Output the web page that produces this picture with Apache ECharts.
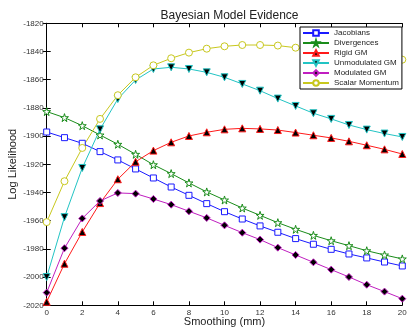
<!DOCTYPE html>
<html>
<head>
<meta charset="utf-8">
<script src="https://cdn.jsdelivr.net/npm/echarts@6/dist/echarts.min.js"></script>
<style>
  html, body { margin: 0; padding: 0; background: #fff; }
  #chart { width: 407px; height: 327px; }
</style>
</head>
<body>
<div id="chart"></div>
<script>
// smoothing kernel width (mm)
const smoothing = [0, 1, 2, 3, 4, 5, 6, 7, 8, 9, 10, 11, 12, 13, 14, 15, 16, 17, 18, 19, 20]

// log likelihood per model
const jacobians = [-1897.1, -1901.1, -1905.1, -1911, -1916.9, -1923.3, -1929.7, -1936.1, -1942, -1947.9, -1953.6, -1958.8, -1963.7, -1968.2, -1972.7, -1976.7, -1980.3, -1983.6, -1986.4, -1989.3, -1992.1]
const divergences = [-1882.6, -1886.9, -1892.6, -1899.2, -1905.8, -1912.9, -1920.3, -1926.6, -1933.2, -1939.6, -1945.3, -1951, -1956.2, -1961.4, -1966.1, -1970.4, -1974.2, -1977.7, -1981.3, -1984.3, -1987.1]
const rigidGM = [-2017.5, -1990.5, -1968, -1947.5, -1930.6, -1918.2, -1910.3, -1904.4, -1899.9, -1897.3, -1895.2, -1894.5, -1894.9, -1895.7, -1897.5, -1899.4, -1901.3, -1903.7, -1906.5, -1909.4, -1912.7]
const unmodulatedGM = [-2000, -1957.5, -1922.6, -1895.2, -1873.7, -1860.2, -1852.4, -1851.2, -1852.4, -1854.8, -1858.3, -1863, -1867.8, -1873.4, -1878.6, -1883.8, -1887.8, -1892.1, -1895.4, -1898.2, -1900.6]
const modulatedGM = [-2011, -1979.5, -1958.4, -1946, -1940.3, -1940.8, -1944.6, -1948.6, -1953.3, -1958, -1963.3, -1968.5, -1973.4, -1979.1, -1984.3, -1989.5, -1994.7, -1999.9, -2005.4, -2010.3, -2015.3]
const scalarMomentum = [-1961, -1932, -1908.4, -1887.8, -1871, -1858.3, -1849.8, -1844.8, -1840.8, -1838, -1836.3, -1835.4, -1835.4, -1835.8, -1837.3, -1838.5, -1839.5, -1841, -1842.5, -1844, -1845.8]

const FONT = 'Liberation Sans'
const STAR = 'path://M50,0 L61,35 L98,35 L68,57 L79,91 L50,70 L21,91 L32,57 L2,35 L39,35 Z'

const pairs = (ys) => smoothing.map((x, i) => [x, ys[i]])

const mkSeries = (name, ys, color, symbol, fill, extra) => Object.assign({
  name: name,
  type: 'line',
  data: pairs(ys),
  symbol: symbol,
  symbolSize: 6,
  showAllSymbol: true,
  clip: false,
  lineStyle: { color: color, width: 1 },
  itemStyle: { color: fill, borderColor: color, borderWidth: 1 },
  emphasis: { disabled: true },
  animation: false,
}, extra || {})

const chart = echarts.init(document.getElementById('chart'))

const axisCommon = {
  axisLine: { lineStyle: { color: '#000', width: 1 } },
  axisTick: { inside: true, length: 4, lineStyle: { color: '#000' } },
  splitLine: { show: false },
}

const option = {
  backgroundColor: '#fff',
  textStyle: { fontFamily: FONT },
  title: {
    text: 'Bayesian Model Evidence',
    left: 224.5,
    top: 5,
    textAlign: 'center',
    textStyle: { fontFamily: FONT, fontSize: 12, fontWeight: 'normal', color: '#222' },
  },
  grid: { left: 46.7, right: 4.7, top: 23.3, bottom: 21.7, outerBoundsMode: 'none', containLabel: false },
  legend: {
    orient: 'vertical',
    left: 300,
    top: 27,
    backgroundColor: '#fff',
    borderColor: '#000',
    borderWidth: 1,
    padding: [1, 3, 1, 2],
    itemGap: 0,
    itemWidth: 26,
    itemHeight: 7,
    textStyle: { fontFamily: FONT, fontSize: 8, lineHeight: 10, color: '#222' },
    data: ['Jacobians', 'Divergences', 'Rigid GM', 'Unmodulated GM', 'Modulated GM', 'Scalar Momentum'],
    z: 10,
  },
  xAxis: [
    Object.assign({
      type: 'value', min: 0, max: 20, interval: 2,
      name: 'Smoothing (mm)', nameLocation: 'middle', nameGap: 11, nameMoveOverlap: false,
      nameTextStyle: { fontFamily: FONT, fontSize: 11, color: '#222' },
      axisLabel: { fontFamily: FONT, fontSize: 8, color: '#333', margin: 3 },
    }, axisCommon),
    Object.assign({
      type: 'value', min: 0, max: 20, interval: 2, position: 'top',
      axisLabel: { show: false },
    }, axisCommon),
  ],
  yAxis: [
    Object.assign({
      type: 'value', min: -2020, max: -1820, interval: 20,
      name: 'Log Likelihood', nameLocation: 'middle', nameGap: 28, nameMoveOverlap: false,
      nameTextStyle: { fontFamily: FONT, fontSize: 11, color: '#222' },
      axisLabel: { fontFamily: FONT, fontSize: 8, color: '#333', margin: 3, formatter: (v) => String(v) },
    }, axisCommon),
    Object.assign({
      type: 'value', min: -2020, max: -1820, interval: 20, position: 'right',
      axisLabel: { show: false },
    }, axisCommon),
  ],
  series: [
    mkSeries('Jacobians', jacobians, '#1a1aff', 'rect', '#fff'),
    mkSeries('Divergences', divergences, '#1a8c1a', STAR, '#fff', { symbolSize: 8 }),
    mkSeries('Rigid GM', rigidGM, '#ff1a1a', 'triangle', '#000', { symbolSize: 7 }),
    mkSeries('Unmodulated GM', unmodulatedGM, '#22c4c4', 'triangle', '#000', { symbolSize: 7, symbolRotate: 180 }),
    mkSeries('Modulated GM', modulatedGM, '#c01ec0', 'diamond', '#000', { symbolSize: 7 }),
    mkSeries('Scalar Momentum', scalarMomentum, '#c8c81e', 'circle', '#fff', { symbolSize: 7 }),
  ],
}

chart.setOption(option)
</script>
</body>
</html>
